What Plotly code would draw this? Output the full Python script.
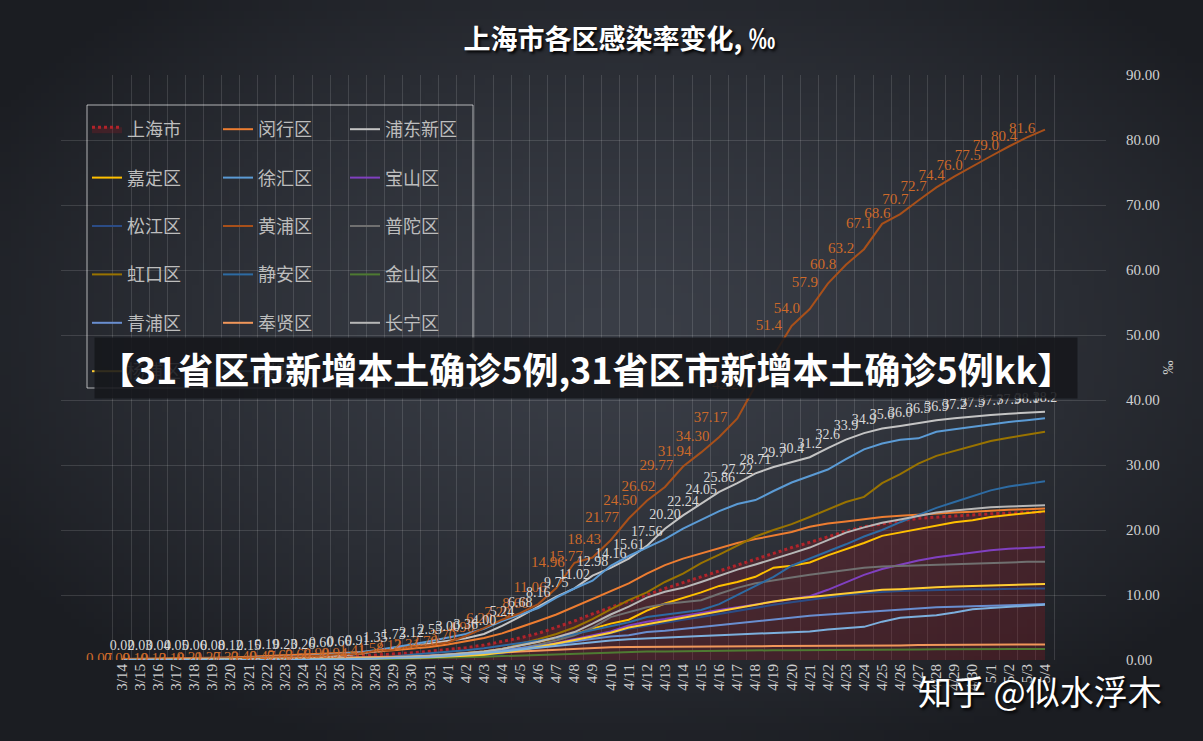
import plotly.graph_objects as go
import numpy as np
import zlib, struct, base64

# ---------------- data ----------------
dates = ([f"3/{d}" for d in range(14, 32)] + [f"4/{d}" for d in range(1, 31)]
         + [f"5/{d}" for d in range(1, 5)])

names = ["上海市", "闵行区", "浦东新区", "嘉定区", "徐汇区", "宝山区",
         "松江区", "黄浦区", "普陀区", "虹口区", "静安区", "金山区",
         "青浦区", "奉贤区", "长宁区", "杨浦区", "崇明区"]

shanghai = [0.03,0.04,0.05,0.06,0.08,0.10,0.13,0.16,0.20,0.25,0.30,0.40,0.50,0.60,0.75,0.90,1.10,1.35,1.60,1.90,
            2.30,2.80,3.40,4.10,5.00,6.00,7.10,8.10,9.10,10.10,11.00,11.90,12.80,13.80,14.70,15.60,16.50,17.30,18.10,19.00,
            19.80,20.50,21.00,21.40,21.80,22.00,22.20,22.40,22.50,22.60,22.70,22.80]
minhang = [0.15,0.18,0.20,0.25,0.30,0.35,0.40,0.50,0.60,0.70,0.80,0.90,1.00,1.10,1.30,1.50,1.70,2.00,2.40,2.90,
           3.40,4.10,5.00,6.00,7.00,8.20,9.40,10.60,11.80,13.30,14.60,15.60,16.40,17.20,18.00,18.60,19.10,19.70,20.50,21.00,
           21.30,21.70,22.00,22.20,22.40,22.50,22.70,22.80,23.00,23.10,23.20,23.30]
pudong = [0.02,0.03,0.04,0.05,0.06,0.08,0.12,0.15,0.19,0.23,0.26,0.60,0.66,0.91,1.35,1.73,2.12,2.55,3.00,3.36,
          4.00,5.24,6.68,8.16,9.75,11.02,12.98,14.16,15.61,17.56,20.20,22.24,24.05,25.86,27.22,28.71,29.7,30.4,31.2,32.6,
          33.9,34.9,35.6,36.0,36.5,36.9,37.2,37.5,37.7,37.9,38.1,38.2]
jiading = [0.02,0.02,0.03,0.03,0.04,0.05,0.06,0.07,0.08,0.09,0.10,0.15,0.20,0.25,0.30,0.40,0.50,0.60,0.80,1.00,
           1.30,1.70,2.20,2.80,3.40,4.00,4.80,5.60,6.20,7.60,8.70,9.50,10.40,11.40,12.00,12.80,14.20,14.50,15.00,16.10,
           17.00,18.00,19.10,19.60,20.20,20.70,21.20,21.50,22.00,22.30,22.60,22.90]
xuhui = [0.05,0.07,0.10,0.13,0.18,0.22,0.28,0.35,0.42,0.50,0.60,0.75,0.95,1.15,1.50,1.90,2.40,2.90,3.50,4.00,
         4.80,6.00,7.00,8.00,9.60,11.00,12.20,14.50,16.00,17.30,18.60,20.20,21.60,22.90,24.00,24.60,26.00,27.30,28.30,29.30,
         30.90,32.40,33.30,33.90,34.10,35.10,35.50,35.90,36.20,36.60,36.90,37.20]
baoshan = [0.01,0.01,0.02,0.02,0.03,0.03,0.04,0.05,0.06,0.07,0.08,0.10,0.12,0.15,0.20,0.25,0.30,0.40,0.50,0.65,
           0.80,1.20,1.60,2.10,2.60,3.20,3.80,4.40,5.30,5.90,6.30,6.80,7.30,7.70,8.10,8.50,8.90,9.30,9.80,10.80,
           12.00,13.10,14.00,14.70,15.30,15.80,16.20,16.60,16.90,17.10,17.30,17.40]
songjiang = [0.01,0.01,0.02,0.02,0.03,0.04,0.05,0.06,0.07,0.08,0.10,0.12,0.15,0.18,0.22,0.28,0.35,0.42,0.50,0.60,
             0.70,1.00,1.40,1.80,2.30,2.80,3.40,4.10,4.80,5.30,5.80,6.20,6.60,7.10,7.60,8.10,8.50,8.90,9.30,9.70,
             10.00,10.30,10.50,10.60,10.70,10.80,10.85,10.90,10.90,11.00,11.00,11.00]
huangpu = [0.07,0.09,0.10,0.13,0.18,0.21,0.27,0.33,0.40,0.47,0.63,0.66,0.90,0.94,1.41,1.58,2.12,2.31,2.70,3.70,
           4.90,6.20,7.20,8.60,11.06,14.96,15.77,18.43,21.77,24.50,26.62,29.77,31.94,34.30,37.17,42.20,46.8,51.4,54.0,57.9,
           60.8,63.2,67.1,68.6,70.7,72.7,74.4,76.0,77.5,79.0,80.4,81.6]
putuo = [0.01,0.02,0.02,0.03,0.04,0.05,0.06,0.07,0.08,0.10,0.12,0.15,0.18,0.22,0.28,0.35,0.45,0.55,0.70,0.85,
         1.00,1.40,1.80,2.40,3.00,3.80,5.00,6.60,7.40,8.10,8.60,8.90,9.20,10.20,11.10,11.80,12.30,12.70,13.10,13.50,
         13.90,14.20,14.40,14.50,14.60,14.70,14.80,14.90,15.00,15.00,15.10,15.10]
hongkou = [0.01,0.01,0.02,0.02,0.03,0.04,0.05,0.06,0.07,0.08,0.10,0.12,0.15,0.20,0.25,0.32,0.40,0.50,0.65,0.85,
           1.10,1.60,2.50,3.20,4.00,5.00,6.30,7.80,9.20,10.40,12.00,13.30,14.90,16.20,17.60,19.00,20.00,20.90,22.00,23.20,
           24.30,25.10,27.20,28.60,30.20,31.40,32.20,33.00,33.70,34.20,34.60,35.10]
jingan = [0.01,0.01,0.02,0.02,0.03,0.04,0.05,0.06,0.08,0.10,0.12,0.15,0.30,0.35,0.45,0.55,0.80,1.00,1.30,1.50,
          1.80,2.20,2.60,3.00,3.40,4.00,4.60,5.20,5.80,6.60,7.00,7.30,7.70,8.60,10.00,11.30,12.80,14.50,15.60,16.60,
          17.80,19.00,20.00,21.20,22.30,23.40,24.30,25.20,26.10,26.70,27.10,27.50]
jinshan = [0.01,0.01,0.01,0.02,0.02,0.02,0.03,0.03,0.04,0.05,0.06,0.07,0.08,0.10,0.12,0.15,0.20,0.25,0.30,0.40,
           0.50,0.60,0.70,0.80,0.90,1.00,1.10,1.20,1.25,1.30,1.30,1.35,1.40,1.40,1.45,1.45,1.50,1.50,1.50,1.55,
           1.55,1.60,1.60,1.60,1.60,1.65,1.65,1.65,1.70,1.70,1.70,1.70]
qingpu = [0.01,0.02,0.02,0.03,0.04,0.05,0.06,0.08,0.10,0.12,0.15,0.18,0.22,0.26,0.30,0.40,0.50,0.65,0.80,1.00,
          1.20,1.50,1.80,2.10,2.50,2.90,3.30,3.60,3.80,4.30,4.50,4.80,5.10,5.40,5.70,6.00,6.30,6.60,6.80,7.00,
          7.20,7.40,7.60,7.80,8.00,8.10,8.20,8.30,8.40,8.50,8.55,8.60]
fengxian = [0.05,0.06,0.08,0.10,0.12,0.15,0.18,0.20,0.22,0.25,0.28,0.30,0.35,0.40,0.45,0.50,0.55,0.65,0.75,0.85,
            1.00,1.15,1.30,1.45,1.60,1.75,1.90,1.95,2.00,2.00,2.00,2.05,2.05,2.10,2.10,2.10,2.15,2.15,2.20,2.20,
            2.20,2.25,2.25,2.25,2.30,2.30,2.30,2.35,2.35,2.35,2.40,2.40]
changning = [0.01,0.02,0.02,0.03,0.04,0.05,0.06,0.07,0.08,0.10,0.12,0.15,0.18,0.22,0.28,0.35,0.45,0.60,0.80,1.00,
             1.30,1.70,2.20,2.80,3.50,4.30,5.60,7.00,8.20,9.60,10.50,11.10,12.00,13.00,13.90,14.70,15.50,16.40,17.30,18.50,
             19.60,20.40,21.10,21.60,22.20,22.70,23.00,23.30,23.50,23.60,23.70,23.80]
yangpu = [0.01,0.01,0.02,0.02,0.03,0.04,0.05,0.06,0.07,0.08,0.10,0.12,0.15,0.18,0.22,0.28,0.35,0.42,0.50,0.65,
          0.80,1.10,1.50,2.00,2.50,3.00,3.60,4.20,5.00,5.50,6.00,6.60,7.10,7.60,8.10,8.60,9.00,9.40,9.70,10.00,
          10.30,10.50,10.80,10.90,11.10,11.20,11.30,11.40,11.50,11.60,11.60,11.70]
chongming = [0.01,0.01,0.01,0.02,0.02,0.03,0.03,0.04,0.05,0.06,0.08,0.10,0.12,0.15,0.20,0.25,0.35,0.45,0.60,0.80,
             1.00,1.30,1.60,1.90,2.20,2.50,2.80,3.00,3.20,3.35,3.50,3.60,3.70,3.80,3.90,4.00,4.10,4.20,4.40,4.70,
             4.90,5.10,5.90,6.50,6.70,6.90,7.30,7.80,8.00,8.20,8.40,8.50]

series = [shanghai, minhang, pudong, jiading, xuhui, baoshan, songjiang, huangpu, putuo,
          hongkou, jingan, jinshan, qingpu, fengxian, changning, yangpu, chongming]
for s in series:
    assert len(s) == len(dates), len(s)

colors = ["#B0232A", "#ED7D31", "#C4C4C4", "#FFC000", "#5B9BD5", "#8040C0",
          "#2B4C86", "#A8501A", "#707070", "#997300", "#2D6BA3", "#4E7A32",
          "#698ED0", "#F1975A", "#B7B7B7", "#FFCD33", "#7CAFDD"]

# ---------------- background gradient ----------------
def gradient_uri(w=160, h=100):
    yy, xx = np.mgrid[0:h, 0:w]
    d = np.sqrt(((xx / (w - 1) - 0.52) / 0.62) ** 2 + ((yy / (h - 1) - 0.45) / 0.62) ** 2)
    t = np.clip(d, 0, 1) ** 1.4
    c0 = np.array([58, 62, 71.0]); c1 = np.array([27, 29, 34.0])
    img = (c0[None, None, :] * (1 - t[..., None]) + c1[None, None, :] * t[..., None]).astype(np.uint8)
    raw = b"".join(b"\x00" + img[r].tobytes() for r in range(h))
    def chunk(tag, data):
        return struct.pack(">I", len(data)) + tag + data + struct.pack(">I", zlib.crc32(tag + data) & 0xffffffff)
    png = (b"\x89PNG\r\n\x1a\n" + chunk(b"IHDR", struct.pack(">IIBBBBB", w, h, 8, 2, 0, 0, 0))
           + chunk(b"IDAT", zlib.compress(raw, 9)) + chunk(b"IEND", b""))
    return "data:image/png;base64," + base64.b64encode(png).decode()

W, H = 1203, 741
L, R, T, B = 61, 97, 75, 81
PW, PH = W - L - R, H - T - B
def px(x):
    return (x - L) / PW
def py(y):
    return 1 - (y - T) / PH

fig = go.Figure()
legends = ["legend", "legend2", "legend3"]
for i, (nm, s, c) in enumerate(zip(names, series, colors)):
    if i == 0:
        fig.add_trace(go.Scatter(x=dates, y=s, name=nm, mode="lines",
                                 line=dict(color=c, width=3, dash="dot"),
                                 fill="tozeroy", fillcolor="rgba(140,25,35,0.30)",
                                 legend=legends[i % 3], legendgroup=nm))
    else:
        fig.add_trace(go.Scatter(x=dates, y=s, name=nm, mode="lines",
                                 line=dict(color=c, width=2),
                                 legend=legends[i % 3], legendgroup=nm))

def fmt(vals):
    return [f"{v:.2f}" if k < 36 else f"{v:.1f}" for k, v in enumerate(vals)]

fig.add_trace(go.Scatter(x=dates, y=huangpu, mode="markers+text", text=fmt(huangpu),
                         textposition="middle left", marker=dict(size=14, color="rgba(0,0,0,0)"),
                         textfont=dict(family="Liberation Serif", size=15, color="#CD6A2A"),
                         showlegend=False, hoverinfo="skip"))
fig.add_trace(go.Scatter(x=dates, y=pudong, mode="markers+text", text=fmt(pudong),
                         textposition="top center", marker=dict(size=8, color="rgba(0,0,0,0)"),
                         textfont=dict(family="Liberation Serif", size=14, color="#D9D9D9"),
                         showlegend=False, hoverinfo="skip"))

leg_common = dict(y=py(111), xanchor="left", yanchor="top", bgcolor="rgba(0,0,0,0)",
                  font=dict(family="Noto Sans CJK SC", size=18, color="#BDBDBD"),
                  tracegroupgap=22, itemwidth=30, orientation="v")

fig.update_layout(
    width=W, height=H,
    margin=dict(l=L, r=R, t=T, b=B),
    paper_bgcolor="#24272e", plot_bgcolor="rgba(0,0,0,0)",
    images=[dict(source=gradient_uri(), xref="paper", yref="paper", x=-L / PW, y=1 + T / PH,
                 sizex=W / PW, sizey=H / PH, sizing="stretch", layer="below",
                 xanchor="left", yanchor="top")],
    title=dict(text="<b>上海市各区感染率变化, ‰</b>", x=0.515, xanchor="center", y=1 - 40 / H, yanchor="middle",
               font=dict(family="Noto Sans CJK SC", size=27, color="#FFFFFF", shadow="2px 2px 3px #000000")),
    legend=dict(x=px(87), **leg_common),
    legend2=dict(x=px(218), **leg_common),
    legend3=dict(x=px(345), **leg_common),
    xaxis=dict(type="category", tickson="boundaries", showgrid=True, gridcolor="rgba(255,255,255,0.13)",
               gridwidth=1, tickangle=-90, ticks="", showline=False, zeroline=False,
               tickfont=dict(family="Liberation Serif", size=15, color="#CFCFCF")),
    yaxis=dict(side="right", range=[0, 90], dtick=10, tickformat=".2f", showgrid=True,
               gridcolor="rgba(255,255,255,0.13)", zeroline=False, showline=False,
               ticks="outside", ticklen=16, tickcolor="rgba(0,0,0,0)",
               tickfont=dict(family="Liberation Serif", size=15, color="#D0D0D0"),
               title=dict(text="‰", font=dict(family="Liberation Serif", size=14, color="#D0D0D0"), standoff=4)),
    shapes=[dict(type="rect", xref="paper", yref="paper", x0=px(87), x1=px(473), y0=py(388), y1=py(105),
                 line=dict(color="rgba(255,255,255,0.65)", width=1), fillcolor="rgba(0,0,0,0)", layer="above")],
    annotations=[
        dict(text="<b>【31省区市新增本土确诊5例,31省区市新增本土确诊5例kk】</b>", xref="paper", yref="paper",
             x=px(586), y=py(368), xanchor="center", yanchor="middle", showarrow=False,
             width=978, height=56, bgcolor="rgba(22,23,27,0.88)", borderpad=2,
             font=dict(family="Noto Sans CJK SC", size=36, color="#FFFFFF")),
        dict(text="知乎 @似水浮木", xref="paper", yref="paper", x=px(1040), y=py(690),
             xanchor="center", yanchor="middle", showarrow=False,
             font=dict(family="Noto Sans CJK SC", size=34, color="#FFFFFF", shadow="2px 2px 3px #000000")),
    ],
)

fig.write_html("out.html")
